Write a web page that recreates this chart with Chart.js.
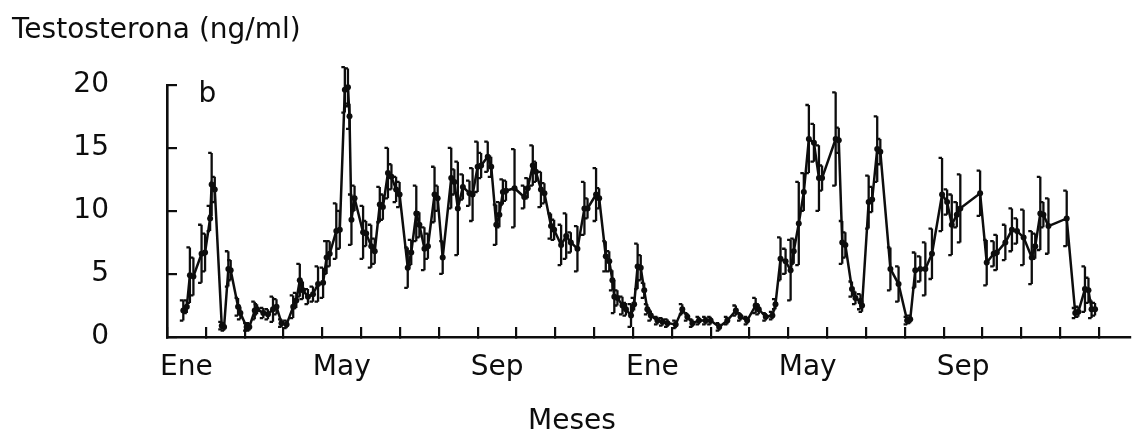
<!DOCTYPE html>
<html><head><meta charset="utf-8">
<script src="https://cdn.jsdelivr.net/npm/chart.js@4"></script>
<style>html,body{margin:0;padding:0;background:#fff}#wrap{width:1134px;height:436px;position:relative}</style>
</head><body><div id="wrap"><canvas id="c"></canvas></div>
<script>
// X-axis month labels and the month index where each labelled month begins
const categorias = ["Ene","May","Sep","Ene","May","Sep"];
const mesesPos = [0,4,8,12,16,20];
const yTicks = [0,5,10,15,20];

// sampling time, in months since the first January
const mes = [0.42,0.51,0.59,0.68,0.89,0.98,1.11,1.15,1.23,1.41,1.47,1.58,1.64,1.83,1.89,2.05,2.12,2.26,2.32,2.48,
2.60,2.73,2.82,2.95,3.08,3.25,3.33,3.42,3.50,3.63,3.76,3.89,4.02,4.11,4.19,4.36,4.45,4.58,4.66,4.70,
4.75,4.83,5.05,5.13,5.26,5.35,5.48,5.56,5.69,5.78,5.90,5.99,6.20,6.29,6.42,6.50,6.63,6.72,6.89,6.97,
7.10,7.32,7.40,7.49,7.62,7.79,7.87,8.00,8.09,8.26,8.35,8.48,8.56,8.65,8.73,8.95,9.20,9.29,9.42,9.50,
9.63,9.72,9.89,9.97,10.15,10.28,10.40,10.57,10.75,10.83,11.05,11.13,11.30,11.39,11.47,11.52,11.60,11.73,11.82,11.95,
12.03,12.12,12.20,12.29,12.37,12.46,12.63,12.76,12.89,13.10,13.27,13.40,13.53,13.70,13.87,14.00,14.22,14.43,14.65,14.77,
14.94,15.16,15.24,15.42,15.59,15.67,15.80,15.93,16.06,16.14,16.27,16.40,16.53,16.66,16.79,16.87,17.22,17.30,17.39,17.47,
17.64,17.73,17.86,17.90,18.07,18.16,18.29,18.37,18.63,18.84,19.06,19.14,19.27,19.40,19.53,19.70,19.96,20.09,20.21,20.34,
20.43,20.94,21.11,21.29,21.37,21.59,21.76,21.89,22.06,22.27,22.36,22.49,22.57,22.70,23.17,23.39,23.47,23.64,23.73,23.81,
23.90];

// testosterone, ng/ml
const testo = [2.1,2.4,4.9,4.8,6.6,6.7,9.4,12.1,11.7,0.9,0.8,5.4,5.3,2.4,1.9,0.8,0.8,2.1,2.2,1.9,
1.8,2.2,2.4,1.1,1.0,2.4,2.9,4.5,3.7,3.2,3.4,4.2,4.3,6.3,6.6,8.4,8.5,19.6,19.8,17.5,
9.3,11.0,8.3,8.2,7.2,6.8,10.5,10.3,13.0,12.7,11.7,11.3,5.5,6.7,9.8,8.9,7.0,7.2,11.3,11.0,
6.3,12.6,12.3,10.2,11.9,11.4,11.3,13.5,13.6,14.3,13.5,8.9,9.7,11.5,11.6,11.8,11.1,11.8,13.6,13.1,
11.7,11.4,8.8,8.5,7.3,8.0,7.5,7.0,10.2,10.2,11.3,11.0,6.4,6.0,4.5,3.2,3.1,2.5,2.2,1.7,
2.6,5.6,5.5,3.7,2.2,1.7,1.3,1.2,1.1,1.0,2.2,1.6,1.1,1.3,1.3,1.3,0.8,1.3,2.1,1.6,
1.3,2.5,2.2,1.6,1.7,2.6,6.2,6.0,5.3,6.8,9.0,11.5,15.7,15.4,12.6,12.6,15.7,15.6,7.5,7.3,
3.8,3.1,2.8,2.5,10.7,10.9,14.9,14.7,5.4,4.2,1.3,1.4,5.3,5.4,5.4,6.6,11.3,10.7,8.9,9.7,
10.2,11.4,5.9,6.6,6.7,7.5,8.5,8.4,7.9,6.3,7.2,9.8,9.7,8.8,9.4,1.9,2.0,3.8,3.7,2.2,
2.2];

// error (± ng/ml)
const err = [0.8,0.5,2.2,1.5,2.3,1.5,1.0,2.5,1.0,0.3,0.3,1.4,0.8,0.7,0.5,0.3,0.3,0.7,0.4,0.4,
0.4,1.0,0.6,0.3,0.3,0.9,0.6,1.3,0.7,0.6,0.6,1.4,1.2,1.3,1.0,2.2,1.5,1.8,1.5,1.0,
2.0,1.0,2.1,1.0,1.7,1.0,1.4,1.0,2.0,1.0,1.0,1.0,1.6,1.0,2.2,1.0,1.7,1.0,2.2,1.0,
1.3,2.4,1.0,3.7,1.0,1.0,2.1,2.0,1.0,1.2,0.8,1.6,1.0,1.0,0.8,3.1,0.9,0.8,1.6,0.8,
1.4,0.8,1.0,0.8,1.6,1.8,0.8,1.8,2.1,0.8,2.1,0.8,1.2,0.8,0.8,1.3,0.6,0.7,0.5,0.9,
0.5,1.8,1.0,0.6,0.4,0.4,0.3,0.3,0.3,0.3,0.4,0.3,0.3,0.3,0.3,0.3,0.3,0.3,0.4,0.3,
0.3,0.6,0.4,0.3,0.3,0.4,1.7,1.0,2.4,1.0,3.3,1.5,2.7,1.5,2.6,1.0,3.7,1.0,1.7,1.0,
0.6,0.5,0.6,0.5,2.1,1.0,2.6,1.0,1.7,1.4,0.3,0.3,1.4,1.0,2.1,2.0,2.9,1.0,2.4,1.0,
2.7,1.8,1.8,1.0,1.4,1.4,1.7,1.0,2.2,2.1,1.0,2.9,1.0,2.2,2.2,0.4,0.4,1.8,1.0,0.7,
0.5];

const FONT = "'DejaVu Sans', 'Liberation Sans', Arial, sans-serif";
const INK = '#0d0d0d';

const errorBars = {
  id: 'errorBars',
  afterDatasetsDraw(chart) {
    const {ctx, scales: {x, y}} = chart;
    ctx.save();
    ctx.strokeStyle = INK;
    ctx.lineWidth = 2.3;
    for (let i = 0; i < mes.length; i++) {
      const px = x.getPixelForValue(mes[i]);
      const top = y.getPixelForValue(testo[i] + err[i]);
      const bot = y.getPixelForValue(Math.max(0, testo[i] - err[i]));
      ctx.beginPath();
      ctx.moveTo(px, top); ctx.lineTo(px, bot);
      ctx.moveTo(px - 3.5, top); ctx.lineTo(px, top);
      ctx.moveTo(px - 3.5, bot); ctx.lineTo(px, bot);
      ctx.stroke();
    }
    ctx.restore();
  }
};

const panelLabel = {
  id: 'panelLabel',
  afterDraw(chart) {
    const {ctx, scales: {x, y}} = chart;
    ctx.save();
    ctx.font = '28px ' + FONT;
    ctx.fillStyle = INK;
    ctx.textAlign = 'center';
    ctx.textBaseline = 'alphabetic';
    ctx.fillText('b', x.getPixelForValue(1.04), y.getPixelForValue(18.6));
    ctx.restore();
  }
};

new Chart(document.getElementById('c'), {
  type: 'scatter',
  data: {
    datasets: [{
      data: mes.map((m, i) => ({x: m, y: testo[i]})),
      showLine: true,
      borderColor: INK,
      borderWidth: 2.5,
      tension: 0,
      pointRadius: 3,
      pointBackgroundColor: INK,
      pointBorderWidth: 0,
      clip: false
    }]
  },
  options: {
    responsive: true,
    maintainAspectRatio: false,
    animation: false,
    layout: {padding: {left: 12, right: 2, top: 0, bottom: 0}},
    plugins: {
      legend: {display: false},
      tooltip: {enabled: false},
      title: {
        display: true, text: 'Testosterona (ng/ml)', align: 'start', color: INK,
        font: {family: FONT, size: 28, weight: 'normal', lineHeight: 1.2},
        padding: {top: 11, bottom: 37}
      },
      subtitle: {
        display: true, text: 'Meses', position: 'bottom', color: INK,
        font: {family: FONT, size: 28, weight: 'normal', lineHeight: 1},
        padding: 0
      }
    },
    scales: {
      x: {
        type: 'linear', min: 0, max: 24.8, position: 'bottom',
        afterBuildTicks(s) { s.ticks = Array.from({length: 25}, (_, i) => ({value: i})); },
        afterFit(s) { s.height = 71; },
        grid: {drawOnChartArea: false, drawTicks: true, tickLength: -10, color: INK, lineWidth: 2.2},
        border: {display: true, color: INK, width: 2.6},
        ticks: {
          autoSkip: false, maxRotation: 0, minRotation: 0, padding: 24, labelOffset: 19.45,
          color: INK, font: {family: FONT, size: 28},
          callback: (v) => { const k = mesesPos.indexOf(v); return k >= 0 ? categorias[k] : ''; }
        }
      },
      y: {
        type: 'linear', min: 0, max: 20,
        afterBuildTicks(s) { s.ticks = yTicks.map(v => ({value: v})); },
        afterFit(s) { s.width = 155; },
        grid: {drawOnChartArea: false, drawTicks: true, tickLength: -10, color: INK, lineWidth: 2.2},
        border: {display: true, color: INK, width: 2.6},
        ticks: {padding: 68, color: INK, font: {family: FONT, size: 28}}
      }
    }
  },
  plugins: [errorBars, panelLabel]
});
</script>
</body></html>
